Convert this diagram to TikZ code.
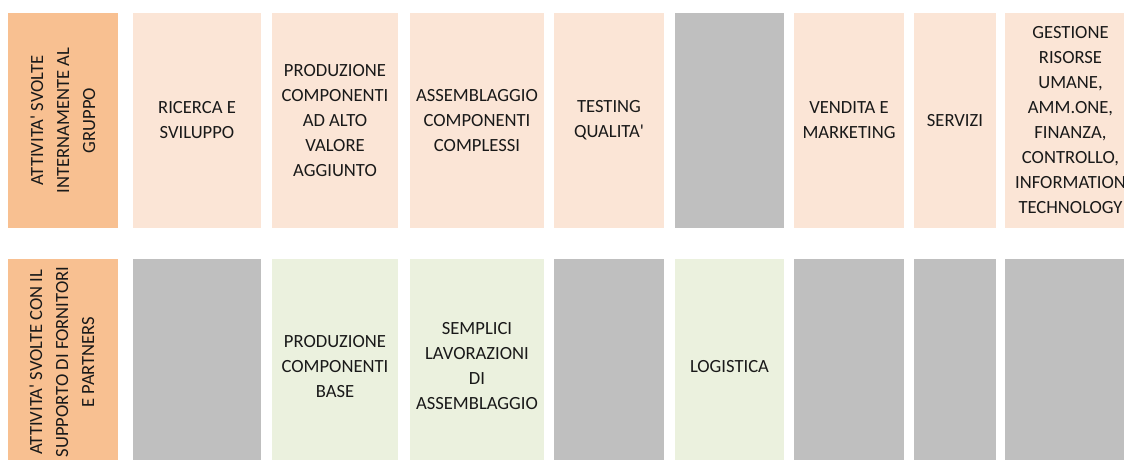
\documentclass[tikz,border=0pt]{standalone}
\usepackage{fontspec}
\setmainfont{Carlito}[Ligatures=TeXOff]
\definecolor{labelor}{HTML}{F8C091}
\definecolor{peach}{HTML}{FBE5D6}
\definecolor{paleg}{HTML}{EBF1DE}
\definecolor{greyc}{HTML}{BFBFBF}
\begin{document}
\begin{tikzpicture}[x=1pt,y=-1pt,
  cell/.style={draw=none, inner sep=0pt, outer sep=0pt, minimum height=215pt, align=center,
    font=\fontsize{18.6}{25}\selectfont, text=black!90},
  vlab/.style={rotate=90, inner sep=0pt, align=center, font=\fontsize{18.6}{26}\selectfont, text=black!90}]
\useasboundingbox (0,0) rectangle (1124,460);
\clip (0,0) rectangle (1124,460);
% top row
\node[cell, fill=labelor, minimum width=110pt] (t0) at (63,120.5) {};
\node[vlab] (t0txt) at (t0.center) {ATTIVITA' SVOLTE\\INTERNAMENTE AL\\GRUPPO};
\node[cell, fill=peach, minimum width=128pt] (t1) at (197,120.5) {RICERCA E\\SVILUPPO};
\node[cell, fill=peach, minimum width=126pt] (t2) at (335,120.5) {PRODUZIONE\\COMPONENTI\\AD ALTO\\VALORE\\AGGIUNTO};
\node[cell, fill=peach, minimum width=134pt] (t3) at (477,120.5) {ASSEMBLAGGIO\\COMPONENTI\\COMPLESSI};
\node[cell, fill=peach, minimum width=110pt] (t4) at (609,120.5) {TESTING\\QUALITA'};
\node[cell, fill=greyc, minimum width=109pt] (t5) at (729.5,120.5) {};
\node[cell, fill=peach, minimum width=110pt] (t6) at (849,120.5) {VENDITA E\\MARKETING};
\node[cell, fill=peach, minimum width=82pt] (t7) at (955,120.5) {SERVIZI};
\node[cell, fill=peach, minimum width=131pt] (t8) at (1070.5,120.5) {GESTIONE\\RISORSE\\UMANE,\\AMM.ONE,\\FINANZA,\\CONTROLLO,\\INFORMATION\\TECHNOLOGY};
% bottom row
\node[cell, fill=labelor, minimum width=110pt] (b0) at (63,366.5) {};
\node[vlab] (b0txt) at (62,362) {ATTIVITA' SVOLTE CON IL\\SUPPORTO DI FORNITORI\\E PARTNERS};
\node[cell, fill=greyc, minimum width=128pt] (b1) at (197,366.5) {};
\node[cell, fill=paleg, minimum width=126pt] (b2) at (335,366.5) {PRODUZIONE\\COMPONENTI\\BASE};
\node[cell, fill=paleg, minimum width=134pt] (b3) at (477,366.5) {SEMPLICI\\LAVORAZIONI\\DI\\ASSEMBLAGGIO};
\node[cell, fill=greyc, minimum width=110pt] (b4) at (609,366.5) {};
\node[cell, fill=paleg, minimum width=109pt] (b5) at (729.5,366.5) {LOGISTICA};
\node[cell, fill=greyc, minimum width=110pt] (b6) at (849,366.5) {};
\node[cell, fill=greyc, minimum width=82pt] (b7) at (955,366.5) {};
\node[cell, fill=greyc, minimum width=131pt] (b8) at (1070.5,366.5) {};
\end{tikzpicture}
\end{document}
